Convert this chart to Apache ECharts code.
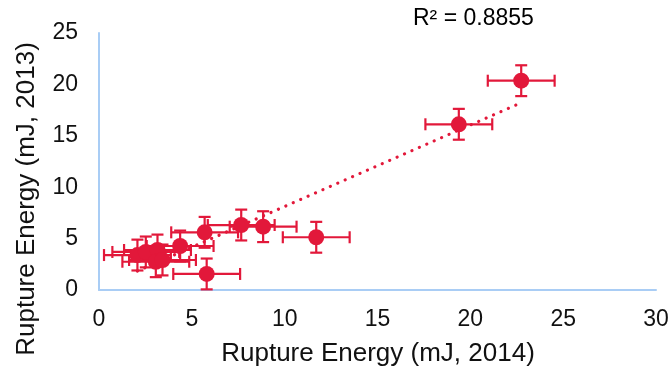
<!DOCTYPE html>
<html><head><meta charset="utf-8">
<script src="https://cdn.jsdelivr.net/npm/echarts@6/dist/echarts.min.js"></script>
<style>html,body{margin:0;padding:0;background:#fff}#c{width:672px;height:369px}</style>
</head><body><div id="c"></div>
<script>
const xValues = [22.74, 19.38, 11.70, 8.84, 7.66, 5.69, 5.80, 4.37, 2.07, 2.52, 3.15, 3.06, 3.42];
const yValues = [20.36, 16.12, 5.13, 6.16, 6.32, 5.61, 1.56, 4.28, 3.40, 3.70, 3.89, 2.75, 2.92];
const xErr = [1.8, 1.8, 1.8, 1.8, 1.8, 1.8, 1.8, 1.8, 1.8, 1.8, 1.8, 1.8, 1.8];
const yErr = [1.5, 1.5, 1.5, 1.5, 1.5, 1.5, 1.5, 1.5, 1.5, 1.5, 1.5, 1.5, 1.5];
const xTicks = [0, 5, 10, 15, 20, 25, 30];
const yTicks = [0, 5, 10, 15, 20, 25];
const rSquaredLabel = 'R² = 0.8855';
const xName = 'Rupture Energy (mJ, 2014)';
const yName = 'Rupture Energy (mJ, 2013)';

const RED = '#e2183a';
const pts = xValues.map((x, i) => [x, yValues[i], xErr[i], yErr[i]]);
// linear regression for trendline
const n = xValues.length;
const mx = xValues.reduce((a, b) => a + b, 0) / n;
const my = yValues.reduce((a, b) => a + b, 0) / n;
let sxy = 0, sxx = 0;
for (let i = 0; i < n; i++) { sxy += (xValues[i] - mx) * (yValues[i] - my); sxx += (xValues[i] - mx) ** 2; }
const slope = sxy / sxx, icpt = my - slope * mx;
const x0 = Math.min(...xValues), x1 = Math.max(...xValues);
const trend = [[x0, icpt + slope * x0], [x1, icpt + slope * x1]];

const chart = echarts.init(document.getElementById('c'), null, {renderer: 'canvas'});
const font = 'Liberation Sans, Arial, sans-serif';
chart.setOption({
  animation: false,
  grid: {left: 99, right: 16, top: 33, bottom: 79, containLabel: false, outerBoundsMode: 'none'},
  graphic: [
    {type: 'text', left: 413, top: 7, style: {text: rSquaredLabel, font: '23px ' + font, fill: '#000'}},
    {type: 'text', x: 27, y: 199, rotation: Math.PI / 2,
     style: {text: yName, font: '26px ' + font, fill: '#111', align: 'center', verticalAlign: 'middle'}},
    {type: 'text', x: 378, y: 354,
     style: {text: xName, font: '26px ' + font, fill: '#111', align: 'center', verticalAlign: 'middle'}}
  ],
  xAxis: {
    type: 'value', min: xTicks[0], max: xTicks[xTicks.length - 1], interval: 5,
    axisLine: {show: true, lineStyle: {color: '#a9cdf5', width: 2}},
    axisTick: {show: false}, splitLine: {show: false},
    axisLabel: {fontFamily: font, fontSize: 23, color: '#111', margin: 18}
  },
  yAxis: {
    type: 'value', min: yTicks[0], max: yTicks[yTicks.length - 1], interval: 5,
    axisLine: {show: true, lineStyle: {color: '#a9cdf5', width: 2}},
    axisTick: {show: false}, splitLine: {show: false},
    axisLabel: {fontFamily: font, fontSize: 23, color: '#111', margin: 21}
  },
  series: [
    {
      type: 'custom', z: 2, data: pts,
      renderItem: function (params, api) {
        const x = api.value(0), y = api.value(1), ex = api.value(2), ey = api.value(3);
        const l = api.coord([x - ex, y]), r = api.coord([x + ex, y]);
        const t = api.coord([x, y + ey]), b = api.coord([x, y - ey]);
        const cap = 6;
        const st = {stroke: RED, lineWidth: 2.2};
        const line = (x1, y1, x2, y2) => ({type: 'line', shape: {x1, y1, x2, y2}, style: st});
        return {type: 'group', children: [
          line(l[0], l[1], r[0], r[1]),
          line(l[0], l[1] - cap, l[0], l[1] + cap),
          line(r[0], r[1] - cap, r[0], r[1] + cap),
          line(t[0], t[1], b[0], b[1]),
          line(t[0] - cap, t[1], t[0] + cap, t[1]),
          line(b[0] - cap, b[1], b[0] + cap, b[1])
        ]};
      }
    },
    {
      type: 'line', z: 3, data: trend, symbol: 'none', silent: true,
      lineStyle: {color: RED, width: 3.2, type: [0.1, 8], cap: 'round'}
    },
    {
      type: 'scatter', z: 4, data: pts.map(p => [p[0], p[1]]),
      symbol: 'circle', symbolSize: 16, itemStyle: {color: RED, opacity: 1}
    }
  ]
});
</script></body></html>
